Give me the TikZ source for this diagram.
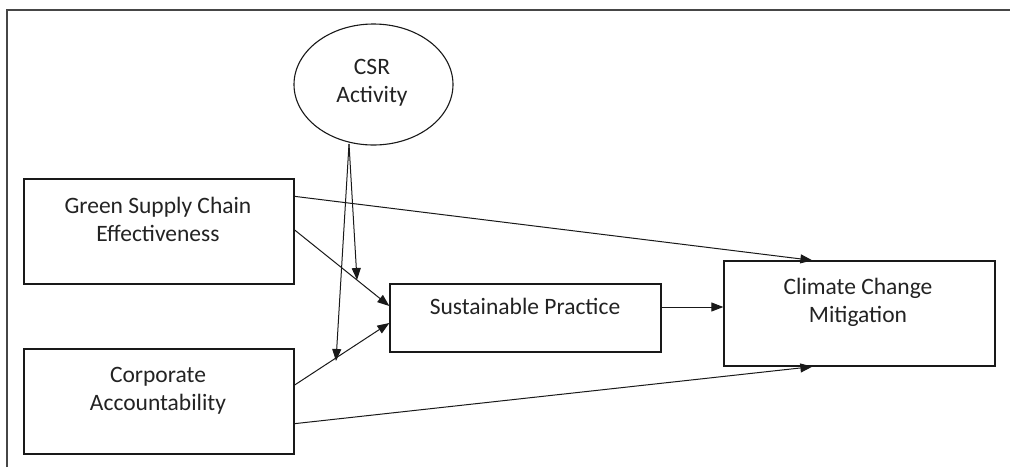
\documentclass[tikz,border=0pt]{standalone}
\usepackage{fontspec}
\setmainfont{Carlito}
\usetikzlibrary{arrows.meta,shapes.geometric}
\definecolor{linec}{RGB}{25,25,25}
\definecolor{framec}{RGB}{70,70,70}
\definecolor{textc}{RGB}{35,35,35}
\tikzset{
  boxnode/.style={draw=linec, line width=1.3pt, rectangle, inner sep=0pt},
  txt/.style={text=textc, align=center, font=\fontsize{23.5}{28}\selectfont, inner sep=0pt},
  arr/.style={draw=linec, line width=1pt, -{Triangle[length=12pt,width=9pt]}}
}
\begin{document}
\begin{tikzpicture}[x=1pt,y=-1pt]
\useasboundingbox (0,0) rectangle (1010,467);
\fill[white] (0,0) rectangle (1010,467);
% outer frame
\draw[framec, line width=1.4pt] (7,467) -- (7,10) -- (1010,10);
% boxes
\node[boxnode, minimum width=270pt, minimum height=105pt] (g) at (159,231.5) {};
\node[boxnode, minimum width=270pt, minimum height=105pt] (a) at (159,401.5) {};
\node[boxnode, minimum width=271pt, minimum height=68pt] (s) at (525.5,318) {};
\node[boxnode, minimum width=271pt, minimum height=105pt] (c) at (859.5,313.5) {};
\node[draw=linec, line width=1.1pt, ellipse, minimum width=159pt, minimum height=121pt, inner sep=0pt] (csr) at (373.5,84.5) {};
% texts
\node[txt] (gt) at (158,219) {Green Supply Chain\\Effectiveness};
\node[txt] (at) at (158,390.5) {Corporate\\Accountability};
\node[txt] (st) at (525,306) {Sustainable Practice};
\node[txt] (ct) at (858,302) {Climate Change\\Mitigation};
\node[txt] (csrt) at (372,83) {CSR\\Activity};
% coordinates
\coordinate (csrb) at (349,144);
\coordinate (m1) at (357,280);
\coordinate (m2) at (336,361);
% connectors
\draw[arr] ([yshift=-18pt]g.north east) -- ([xshift=89pt]c.north west);
\draw[arr] ([yshift=31pt]a.south east) -- ([xshift=89pt]c.south west);
\draw[arr] ([yshift=1.5pt]g.east) -- ([yshift=12pt]s.west);
\draw[arr] ([yshift=16.5pt]a.east) -- ([yshift=-5pt]s.west);
\draw[arr] ([yshift=11pt]s.east) -- ([yshift=11pt]s.east -| c.west);
\draw[arr] (csrb) -- (m1);
\draw[arr] (csrb) -- (m2);
\end{tikzpicture}
\end{document}
